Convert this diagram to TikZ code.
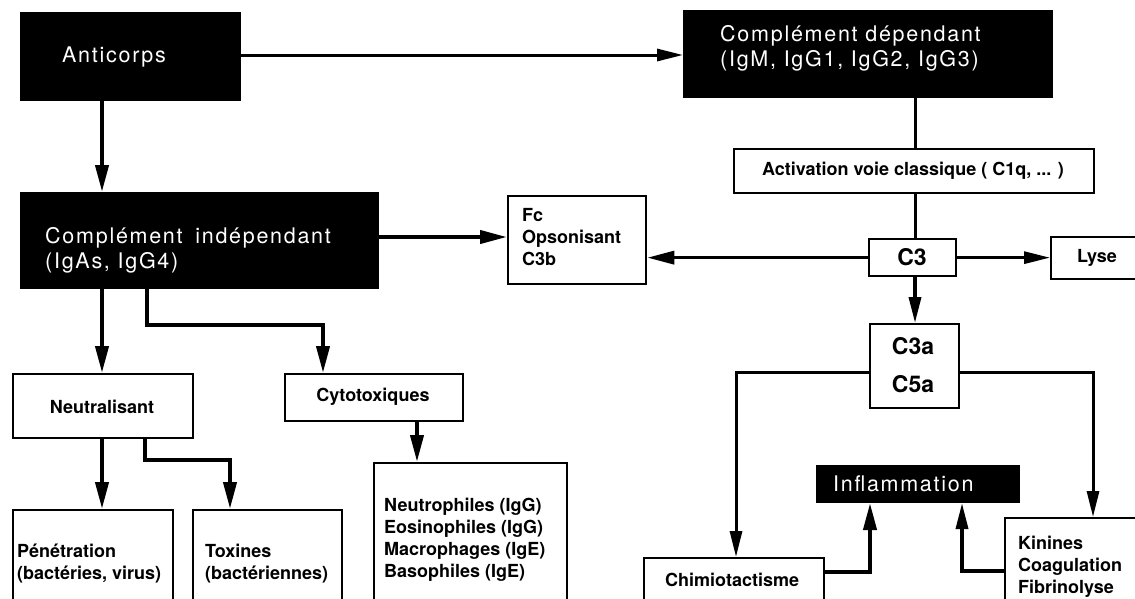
\documentclass[tikz,border=0pt]{standalone}
\usepackage{fontspec}
\setmainfont{TeX Gyre Heros}
\newfontfamily\darkfont[LetterSpace=8]{TeX Gyre Heros}
\usetikzlibrary{arrows.meta,calc}

\begin{document}
\begin{tikzpicture}[x=1pt,y=-1pt,
  boxw/.style={draw=black, line width=2.3pt, fill=white, inner sep=0pt, anchor=north west},
  boxb/.style={draw=black, fill=black, line width=1pt, inner sep=0pt, anchor=north west},
  wlabel/.style={inner sep=0pt, align=left, font=\bfseries\fontsize{18}{22}\selectfont},
  blabel/.style={inner sep=0pt, align=left, text=white, font=\darkfont\fontsize{21.5}{25}\selectfont},
  flow/.style={line width=4pt, -{Triangle[length=27pt,width=13pt]}},
  thinflow/.style={line width=3pt, -{Triangle[length=26pt,width=12pt]}},
  link/.style={line width=3pt},
]
\useasboundingbox (0,0) rectangle (1135,598);
\fill[white] (0,0) rectangle (1135,598);
\clip (0,0) rectangle (1135,598);

% dark boxes
\node[boxb, minimum width=220pt, minimum height=88pt] (anti) at (20,12) {};
\node[boxb, minimum width=369pt, minimum height=87pt] (dep) at (683,10) {};
\node[boxb, minimum width=358pt, minimum height=96pt] (indep) at (20,192) {};
\node[boxb, minimum width=203pt, minimum height=37pt] (infl) at (816,465) {};

% light boxes
\node[boxw, minimum width=138pt, minimum height=88pt] (fc) at (507,195) {};
\node[boxw, minimum width=360pt, minimum height=44pt] (act) at (733,148) {};
\node[boxw, minimum width=87pt, minimum height=37pt] (c3) at (868,238) {};
\node[boxw, minimum width=90pt, minimum height=42pt] (lyse) at (1050,236) {};
\node[boxw, minimum width=89pt, minimum height=84pt] (c3a) at (869,323) {};
\node[boxw, minimum width=180pt, minimum height=60pt] (chimio) at (643,557) {};
\node[boxw, minimum width=140pt, minimum height=100pt] (kin) at (1004,517) {};
\node[boxw, minimum width=180pt, minimum height=64pt] (neut) at (12,373) {};
\node[boxw, minimum width=178pt, minimum height=47pt] (cyto) at (284,373) {};
\node[boxw, minimum width=193pt, minimum height=150pt] (neutro) at (373,462) {};
\node[boxw, minimum width=160pt, minimum height=100pt] (pene) at (12,509) {};
\node[boxw, minimum width=149pt, minimum height=100pt] (tox) at (192,509) {};

% labels in dark boxes
\node[blabel, anchor=west] (antiT) at (62,57) {Anticorps};
\node[blabel, anchor=west] (depT) at (720,48) {Complément dépendant\\(IgM, IgG1, IgG2, IgG3)};
\node[blabel, anchor=west] (indepT) at (45,250) {Complément\hspace{5pt} indépendant\\(IgAs, IgG4)};
\node[blabel, anchor=west] (inflT) at (833,484) {Inflammation};

% labels in light boxes
\node[wlabel, anchor=west] (fcT) at (522,237) {Fc\\Opsonisant\\C3b};
\node[wlabel] (actT) at (913,171) {Activation voie classique ( C1q, ... )};
\node[wlabel, font=\bfseries\fontsize{23}{28}\selectfont] (c3T) at (912,257) {C3};
\node[wlabel] (lyseT) at (1097,258) {Lyse};
\node[wlabel, align=center, font=\bfseries\fontsize{23}{38}\selectfont] (c3aT) at (913,365) {C3a\\C5a};
\node[wlabel, anchor=west] (chimT) at (665,580) {Chimiotactisme};
\node[wlabel, anchor=west] (kinT) at (1018,567) {Kinines\\Coagulation\\Fibrinolyse};
\node[wlabel] (neutT) at (102,407) {Neutralisant};
\node[wlabel] (cytoT) at (373,397) {Cytotoxiques};
\node[wlabel, anchor=west] (neutroT) at (384,540) {Neutrophiles (IgG)\\Eosinophiles (IgG)\\Macrophages (IgE)\\Basophiles (IgE)};
\node[wlabel, anchor=west] (peneT) at (17,564) {Pénétration\\(bactéries, virus)};
\node[wlabel, anchor=west] (toxT) at (205,564) {Toxines\\(bactériennes)};

% connectors
\draw[thinflow] ($(anti.north east)+(0,43)$) -- ($(dep.north west)+(0,45)$);
\draw[flow] ($(anti.south west)+(82,0)$) -- ($(indep.north west)+(82,0)$);
\draw[flow] ($(indep.north east)+(0,45)$) -- ($(fc.north west)+(0,42)$);
\draw[flow, line width=3.5pt] (c3.west) -- (c3.west -| fc.east);
\draw[link] ($(dep.south west)+(232,0)$) -- ($(act.north west)+(182,0)$);
\draw[link] ($(act.south west)+(182,0)$) -- ($(c3.north west)+(47,0)$);
\draw[thinflow] (c3.east) -- (c3.east -| lyse.west);
\draw[thinflow, line width=3.5pt] ($(c3.south west)+(47,0)$) -- ($(c3a.north west)+(46,0)$);
\draw[thinflow] ($(c3a.north west)+(0,49)$) -| ($(chimio.north west)+(93,0)$);
\draw[thinflow] ($(c3a.north east)+(0,49)$) -| ($(kin.north west)+(89,0)$);
\draw[flow] ($(chimio.north east)+(0,15)$) -| ($(infl.south west)+(54,0)$);
\draw[thinflow, line width=3.5pt] ($(kin.north west)+(0,54)$) -| ($(infl.south west)+(146,0)$);
\draw[flow] ($(indep.south west)+(82,0)$) -- ($(neut.north west)+(90,0)$);
\draw[flow] ($(indep.south west)+(127,0)$) |- ($(cyto.north west)+(39,-48)$) -- ($(cyto.north west)+(39,0)$);
\draw[flow] ($(cyto.south west)+(133,0)$) -- ($(neutro.north west)+(44,0)$);
\draw[flow] ($(neut.south west)+(90,0)$) -- ($(pene.north west)+(90,0)$);
\draw[flow] ($(neut.south west)+(133,0)$) |- ($(tox.north west)+(38,-49)$) -- ($(tox.north west)+(38,0)$);
\end{tikzpicture}
\end{document}
